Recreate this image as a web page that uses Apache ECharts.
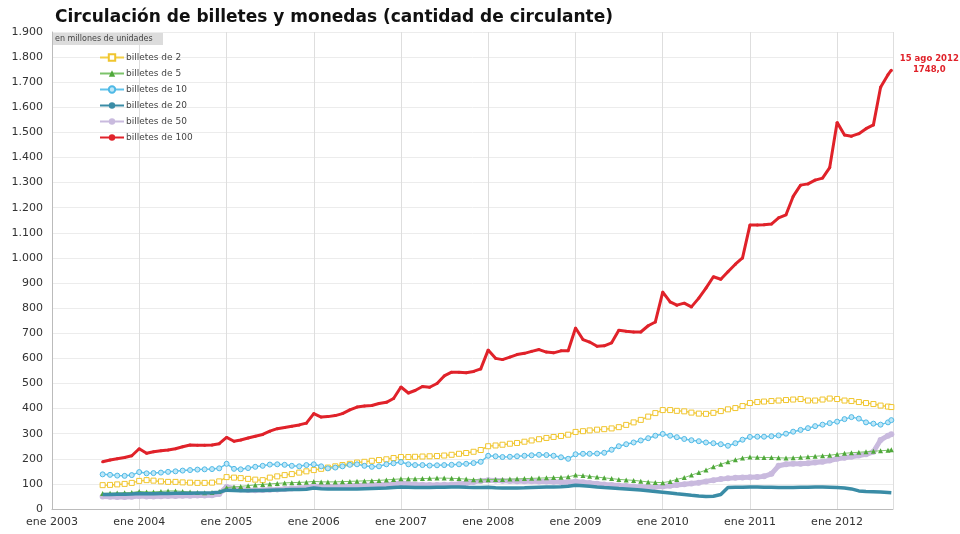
<!DOCTYPE html>
<html>
<head>
<meta charset="utf-8">
<script src="https://cdn.jsdelivr.net/npm/echarts@6/dist/echarts.min.js"></script>
<style>
  html, body { margin: 0; padding: 0; background: #fff; }
  #chart { width: 960px; height: 534px; }
</style>
</head>
<body>
<div id="chart"></div>
<script>
// monthly readings, Aug 2003 .. Aug 2012, last point 15 Aug 2012 (millones de unidades)
const startYear = 2003, startMonth = 8;
const lastDate = '2012-08-15';

const billetes2 = [
  95, 96, 98, 100, 104,
  112, 115, 113, 110, 108, 108, 106, 105, 104, 104, 105, 110,
  127, 125, 123, 120, 117, 115, 125, 130, 135, 139, 145, 150,
  155, 160, 165, 170, 175, 180, 185, 188, 192, 195, 198, 203,
  207, 207, 208, 209, 210, 211, 213, 216, 220, 223, 228, 235,
  250, 253, 256, 260, 263, 268, 273, 278, 283, 287, 291, 296,
  307, 310, 313, 316, 318, 321, 326, 335, 345, 355, 368, 382,
  394, 394, 391, 389, 384, 380, 379, 383, 390, 397, 402, 410,
  422, 426, 428, 430, 432, 434, 436, 438, 432, 432, 436, 440,
  438, 432, 430, 426, 422, 418, 412, 408, 406
];
const billetes5 = [
  62, 63, 64, 65, 66,
  70, 68, 68, 70, 72, 72, 70, 68, 66, 65, 66, 70,
  85, 88, 90, 93, 96, 98, 100, 102, 104, 105, 106, 107,
  110, 108, 108, 108, 109, 110, 111, 112, 113, 114, 116, 118,
  120, 120, 120, 121, 122, 123, 123, 122, 121, 119, 117, 116,
  117, 118, 118, 119, 120, 121, 122, 123, 124, 125, 126, 128,
  135, 133, 130, 127, 124, 121, 118, 116, 114, 111, 108, 106,
  105, 110, 118, 125, 135, 145, 155, 168, 178, 188, 196, 203,
  207, 206, 205, 205, 204, 203, 204, 206, 208, 210, 212, 214,
  218, 222, 224, 226, 228, 230, 232, 234, 236
];
const billetes10 = [
  138, 136, 133, 132, 135,
  147, 142, 143, 145, 148, 150, 153, 155, 157, 158, 159, 162,
  180, 160, 158, 163, 168, 172, 177, 178, 176, 172, 170, 175,
  178, 170, 162, 165, 170, 176, 178, 172, 168, 170, 178, 182,
  187, 178, 175, 175, 173, 174, 175, 176, 178, 180, 183, 188,
  212, 210, 207, 208, 210, 212, 214, 216, 215, 212, 206, 200,
  218, 220, 220, 221, 224, 236, 250, 258, 265, 273, 282, 292,
  299, 292, 286, 279, 274, 270, 265, 262, 258, 252, 262, 276,
  287, 288, 288, 290, 293, 300, 308, 315, 322, 330, 336, 342,
  348, 358, 366, 360, 345, 340, 336, 345, 354
];
const billetes20 = [
  58, 58, 59, 59, 60,
  62, 61, 61, 62, 62, 63, 63, 63, 64, 64, 65, 67,
  75, 74, 73, 73, 74, 74, 75, 76, 77, 78, 78, 79,
  84, 81, 80, 80, 80, 80, 80, 81, 82, 83, 84, 86,
  88, 87, 86, 86, 86, 87, 87, 88, 88, 87, 86, 86,
  87, 85, 84, 84, 84, 85, 86, 87, 88, 88, 89, 91,
  95, 93, 91, 88, 86, 84, 82, 80, 78, 76, 73, 70,
  67, 64, 61, 58, 55, 52, 50, 51, 58, 86, 87, 87,
  88, 88, 87, 87, 86, 86, 86, 87, 87, 88, 88, 87,
  86, 84, 80, 72, 70, 69, 68, 66, 65
];
const billetes50 = [
  50, 49, 48, 48, 49,
  52, 50, 50, 51, 52, 52, 53, 53, 54, 54, 55, 60,
  88, 82, 78, 76, 75, 76, 77, 78, 80, 82, 84, 86,
  92, 90, 90, 91, 92, 93, 94, 95, 96, 97, 98, 100,
  104, 100, 98, 97, 96, 96, 97, 98, 100, 103, 108, 112,
  115, 114, 113, 112, 111, 111, 111, 110, 110, 109, 108, 107,
  110, 107, 104, 101, 98, 96, 94, 92, 90, 89, 88, 88,
  90, 93, 96, 99, 102, 105, 110, 115, 119, 122, 124, 125,
  126, 127, 130, 140, 172, 178, 180, 180, 182, 185, 188, 193,
  200, 204, 208, 213, 218, 228, 275, 292, 298
];
const billetes100 = [
  188, 195, 200, 205, 212,
  240, 222, 228, 232, 235, 240, 248, 255, 254, 254, 255, 260,
  285, 270, 275, 283, 290, 297, 310, 320, 325, 330, 335, 342,
  380, 366, 368, 372, 380, 395, 406, 410, 412, 420, 425, 440,
  486, 462, 472, 488, 485, 500, 530, 545, 545, 543, 548, 558,
  633, 600, 595, 605, 615, 620, 628, 635, 625, 622, 630, 630,
  721, 675, 665, 648, 650, 662, 712, 708, 705, 705, 730, 745,
  864, 825, 812, 820, 805, 840, 880, 925, 915, 945, 975, 1000,
  1131, 1131, 1132, 1135, 1160, 1172, 1245, 1290, 1295, 1310, 1318, 1360,
  1540, 1490, 1485, 1495, 1515, 1530, 1680, 1730, 1748
];

const seriesNames = ['billetes de 2', 'billetes de 5', 'billetes de 10',
  'billetes de 20', 'billetes de 50', 'billetes de 100'];
const endNote = '15 ago 2012\n1748,0';

// dates of the readings: first of each month, then the last day read
const dates = [];
for (let i = 0; i < billetes100.length - 1; i++) {
  const m = startMonth - 1 + i;
  const y = startYear + Math.floor(m / 12);
  const mm = (m % 12) + 1;
  dates.push(y + '-' + (mm < 10 ? '0' + mm : mm) + '-01');
}
dates.push(lastDate);

function pairs(arr) {
  return arr.map((v, i) => [dates[i], v]);
}

const chart = echarts.init(document.getElementById('chart'));

const option = {
  animation: false,
  textStyle: { fontFamily: 'DejaVu Sans' },
  title: {
    text: 'Circulación de billetes y monedas (cantidad de circulante)',
    left: 50,
    top: 4,
    textStyle: { fontSize: 17, fontWeight: 'bold', color: '#111', fontFamily: 'DejaVu Sans' }
  },
  grid: { left: 52, right: 67, top: 32, bottom: 25, containLabel: false },
  legend: {
    orient: 'vertical',
    left: 94,
    top: 48,
    itemWidth: 24,
    itemHeight: 8,
    itemGap: 7,
    textStyle: { fontSize: 9, color: '#444', padding: [0, 0, 0, -3] },
    data: seriesNames
  },
  graphic: [{
    type: 'rect',
    left: 53,
    top: 33,
    shape: { width: 110, height: 12 },
    style: { fill: '#dcdcdc' },
    z: 10
  }, {
    type: 'text',
    left: 55,
    top: 35,
    style: { text: 'en millones de unidades', fontSize: 8, fill: '#444', fontFamily: 'DejaVu Sans' },
    z: 11
  }],
  xAxis: {
    type: 'time',
    min: '2003-01-01',
    max: '2012-08-22',
    minInterval: 365 * 24 * 3600 * 1000,
    maxInterval: 366 * 24 * 3600 * 1000,
    axisLine: { lineStyle: { color: '#bbb' } },
    axisTick: { show: false },
    splitLine: { show: true, lineStyle: { color: '#dedede' } },
    axisLabel: {
      fontSize: 11,
      color: '#333',
      margin: 8,
      formatter: function (val) {
        return 'ene ' + new Date(val).getFullYear();
      }
    }
  },
  yAxis: {
    type: 'value',
    min: 0,
    max: 1900,
    interval: 100,
    axisLine: { show: true, lineStyle: { color: '#bbb' } },
    axisTick: { show: false },
    splitLine: { lineStyle: { color: '#ececec' } },
    axisLabel: {
      fontSize: 11,
      color: '#333',
      margin: 9,
      formatter: function (v) {
        return v >= 1000 ? Math.floor(v / 1000) + '.' + String(v % 1000).padStart(3, '0') : String(v);
      }
    }
  },
  series: [
    {
      name: seriesNames[0], type: 'line', data: pairs(billetes2),
      symbol: 'rect', symbolSize: 5, showSymbol: true,
      lineStyle: { color: '#f3cf45', width: 1.5 },
      itemStyle: { color: '#fff', borderColor: '#f0c52e', borderWidth: 1 },
      z: 3
    },
    {
      name: seriesNames[1], type: 'line', data: pairs(billetes5),
      symbol: 'triangle', symbolSize: 5,
      lineStyle: { color: '#7cc36a', width: 1 },
      itemStyle: { color: '#4fa83a' },
      z: 3
    },
    {
      name: seriesNames[2], type: 'line', data: pairs(billetes10),
      symbol: 'circle', symbolSize: 5,
      lineStyle: { color: '#62c3ea', width: 1.5 },
      itemStyle: { color: '#bfe7f7', borderColor: '#4fb9e6', borderWidth: 1 },
      z: 3
    },
    {
      name: seriesNames[3], type: 'line', data: pairs(billetes20),
      symbol: 'none',
      lineStyle: { color: '#3a8ca6', width: 3.5 },
      itemStyle: { color: '#3a8ca6' },
      z: 4
    },
    {
      name: seriesNames[4], type: 'line', data: pairs(billetes50),
      symbol: 'circle', symbolSize: 6,
      lineStyle: { color: '#c9bade', width: 5 },
      itemStyle: { color: '#c9bade' },
      z: 2
    },
    {
      name: seriesNames[5], type: 'line', data: pairs(billetes100),
      symbol: 'circle', symbolSize: 3,
      lineStyle: { color: '#e0222a', width: 3 },
      itemStyle: { color: '#e0222a' },
      z: 5,
      endLabel: {
        show: true,
        formatter: endNote,
        align: 'center',
        offset: [30, -6],
        color: '#e0222a',
        fontSize: 8.5,
        fontWeight: 'bold',
        lineHeight: 11
      }
    }
  ]
};

chart.setOption(option);
</script>
</body>
</html>
